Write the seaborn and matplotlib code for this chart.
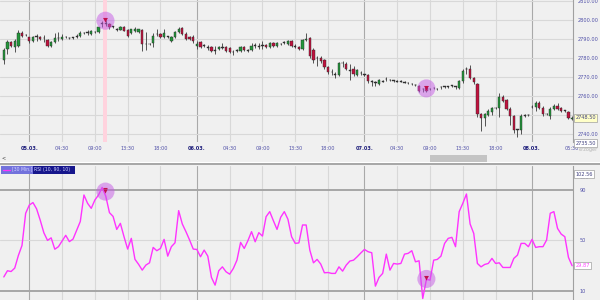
import matplotlib
matplotlib.use("Agg")
import matplotlib.pyplot as plt
import matplotlib.patches as mpatches
import matplotlib.transforms as mtransforms
import numpy as np
import pandas as pd
import seaborn as sns

# ---------------- data (30 min bars) ----------------
opens = [2778.9, 2784.7, 2788.2, 2785.6, 2786.5, 2793.0, 2792.1, 2790.9, 2789.1, 2791.2,
         2791.2, 2790.5, 2789.5, 2786.5, 2788.2, 2790.5, 2790.0, 2790.9, 2790.5, 2790.5,
         2791.2, 2791.5, 2793.0, 2793.3, 2792.6, 2793.5, 2793.5, 2798.2, 2797.9, 2797.9,
         2796.5, 2795.0, 2794.7, 2796.1, 2794.7, 2793.0, 2794.4, 2793.5, 2794.7, 2787.4,
         2787.2, 2787.7, 2792.6, 2792.6, 2790.9, 2791.2, 2788.8, 2790.9, 2793.6, 2795.8,
         2792.6, 2791.2, 2790.9, 2786.5, 2788.2, 2786.5, 2785.6, 2785.6, 2783.9, 2784.5,
         2785.6, 2785.6, 2785.0, 2783.0, 2783.9, 2783.7, 2785.6, 2783.9, 2784.2, 2786.5,
         2786.0, 2786.5, 2787.0, 2786.0, 2787.7, 2786.5, 2787.4, 2788.2, 2787.4, 2788.8,
         2786.0, 2786.0, 2784.7, 2789.5, 2790.5, 2784.2, 2780.0, 2780.0, 2778.9, 2775.1,
         2772.5, 2771.2, 2771.2, 2777.2, 2776.9, 2773.3, 2774.2, 2771.2, 2772.0, 2771.2,
         2771.2, 2767.7, 2767.2, 2766.3, 2767.7, 2768.8, 2768.4, 2768.1, 2767.7, 2767.7,
         2767.2, 2766.7, 2766.3, 2765.8, 2765.4, 2763.7, 2764.0, 2763.7, 2764.2, 2763.7,
         2764.6, 2764.9, 2764.9, 2765.4, 2764.9, 2764.2, 2767.7, 2774.2, 2774.2, 2769.5,
         2766.3, 2750.5, 2748.4, 2750.2, 2751.4, 2753.7, 2753.7, 2759.3, 2757.9, 2753.2,
         2749.6, 2742.2, 2742.2, 2749.6, 2750.0, 2754.2, 2754.2, 2756.1, 2753.7, 2750.5,
         2749.3, 2753.2, 2755.0, 2753.7, 2752.3, 2751.4, 2748.0]
highs = [2785.0, 2789.5, 2789.1, 2790.0, 2794.7, 2794.0, 2792.6, 2791.2, 2791.5, 2792.6,
         2791.8, 2792.3, 2790.0, 2789.0, 2793.0, 2793.5, 2792.6, 2791.4, 2791.0, 2791.0,
         2792.6, 2794.0, 2793.6, 2794.7, 2794.7, 2794.0, 2796.5, 2799.5, 2800.0, 2798.5,
         2797.0, 2795.8, 2797.0, 2796.6, 2795.3, 2795.5, 2796.1, 2795.5, 2795.3, 2793.5,
         2787.8, 2793.0, 2795.3, 2793.1, 2795.3, 2791.8, 2791.4, 2794.1, 2796.5, 2796.5,
         2793.5, 2791.7, 2792.3, 2789.0, 2789.0, 2787.4, 2787.0, 2786.1, 2786.5, 2786.1,
         2787.7, 2786.1, 2786.0, 2784.0, 2784.5, 2786.5, 2786.1, 2784.8, 2787.7, 2788.0,
         2787.7, 2789.1, 2787.5, 2788.2, 2788.2, 2788.2, 2787.9, 2789.1, 2789.6, 2789.3,
         2787.4, 2786.5, 2790.0, 2793.0, 2791.0, 2785.0, 2781.2, 2781.2, 2779.4, 2776.0,
         2774.2, 2772.5, 2777.8, 2778.6, 2778.0, 2776.8, 2776.0, 2774.2, 2773.4, 2771.7,
         2771.6, 2768.4, 2767.8, 2768.9, 2768.3, 2769.8, 2769.0, 2768.6, 2768.2, 2768.2,
         2767.7, 2767.2, 2766.8, 2766.3, 2766.0, 2764.2, 2764.5, 2764.2, 2764.7, 2764.2,
         2765.5, 2765.4, 2765.4, 2765.9, 2765.4, 2768.4, 2774.0, 2775.1, 2776.3, 2770.0,
         2767.0, 2751.0, 2751.0, 2753.0, 2754.0, 2754.2, 2761.8, 2760.5, 2758.5, 2754.0,
         2750.0, 2742.7, 2750.5, 2750.4, 2750.5, 2755.5, 2757.5, 2757.5, 2754.5, 2751.0,
         2754.0, 2756.0, 2756.3, 2754.0, 2752.8, 2752.0, 2749.3]
lows = [2776.8, 2782.1, 2785.6, 2783.0, 2786.0, 2791.2, 2791.5, 2787.7, 2788.5, 2789.1,
        2789.5, 2788.2, 2785.6, 2786.0, 2787.7, 2788.8, 2789.5, 2790.4, 2790.0, 2790.0,
        2790.5, 2791.2, 2792.5, 2792.3, 2792.3, 2793.0, 2793.3, 2796.5, 2796.8, 2795.3,
        2796.0, 2794.2, 2794.5, 2794.0, 2791.2, 2792.8, 2793.5, 2793.0, 2783.5, 2784.0,
        2786.6, 2785.6, 2791.8, 2790.4, 2790.5, 2790.6, 2788.3, 2790.4, 2793.0, 2792.3,
        2789.5, 2789.5, 2787.7, 2784.7, 2785.0, 2785.6, 2784.2, 2783.4, 2782.1, 2784.0,
        2784.7, 2783.4, 2782.5, 2781.8, 2783.4, 2783.2, 2783.7, 2783.0, 2783.7, 2785.5,
        2784.7, 2784.7, 2785.1, 2785.5, 2786.0, 2786.0, 2786.9, 2787.4, 2786.9, 2786.0,
        2785.3, 2784.2, 2784.2, 2788.8, 2780.0, 2777.5, 2776.0, 2777.5, 2774.0, 2771.4,
        2771.2, 2769.5, 2770.5, 2775.4, 2773.5, 2768.4, 2770.5, 2770.7, 2771.0, 2770.5,
        2767.0, 2765.4, 2765.5, 2765.8, 2767.2, 2768.0, 2767.9, 2767.5, 2767.2, 2767.2,
        2766.7, 2766.2, 2765.8, 2765.3, 2762.0, 2762.0, 2762.3, 2763.2, 2763.7, 2763.2,
        2763.5, 2764.4, 2764.4, 2764.9, 2763.5, 2763.7, 2767.0, 2771.4, 2768.8, 2766.3,
        2749.0, 2741.8, 2744.4, 2749.5, 2750.0, 2753.2, 2749.1, 2757.0, 2752.5, 2745.0,
        2740.5, 2738.6, 2740.0, 2748.9, 2749.4, 2753.5, 2752.0, 2753.2, 2749.5, 2750.0,
        2748.0, 2752.8, 2752.8, 2751.5, 2751.8, 2747.9, 2747.6]
closes = [2784.2, 2788.2, 2786.5, 2789.1, 2793.0, 2791.8, 2792.0, 2789.1, 2790.9, 2791.1,
          2790.0, 2790.4, 2786.5, 2788.2, 2790.5, 2790.4, 2791.2, 2790.8, 2790.4, 2790.6,
          2791.1, 2793.3, 2793.1, 2793.2, 2794.0, 2793.6, 2796.1, 2798.1, 2798.0, 2796.1,
          2796.4, 2794.9, 2796.5, 2794.4, 2791.8, 2795.0, 2795.3, 2795.0, 2787.4, 2787.3,
          2787.3, 2791.8, 2792.5, 2790.9, 2793.0, 2791.1, 2790.9, 2793.6, 2795.3, 2792.6,
          2790.0, 2790.0, 2788.8, 2787.5, 2786.0, 2786.4, 2785.5, 2783.9, 2783.8, 2785.6,
          2785.5, 2783.9, 2783.0, 2782.9, 2783.8, 2785.6, 2784.2, 2783.8, 2786.5, 2786.4,
          2785.9, 2786.4, 2785.6, 2787.7, 2786.5, 2787.7, 2787.3, 2788.1, 2789.1, 2786.5,
          2785.9, 2784.7, 2789.5, 2790.0, 2781.2, 2779.0, 2779.9, 2778.6, 2775.1, 2772.5,
          2772.4, 2771.1, 2777.2, 2777.1, 2774.3, 2773.2, 2771.6, 2773.7, 2771.9, 2771.1,
          2768.1, 2767.6, 2767.1, 2768.4, 2767.6, 2768.7, 2768.3, 2768.0, 2767.6, 2767.6,
          2767.1, 2766.6, 2766.2, 2765.7, 2762.8, 2763.6, 2762.8, 2763.6, 2764.1, 2763.6,
          2764.5, 2764.8, 2764.8, 2765.3, 2764.8, 2767.7, 2773.0, 2774.1, 2769.5, 2767.2,
          2750.5, 2748.4, 2750.5, 2752.0, 2753.7, 2753.6, 2759.6, 2757.5, 2753.2, 2749.6,
          2742.2, 2742.1, 2749.6, 2749.5, 2749.9, 2754.1, 2756.1, 2753.7, 2750.5, 2750.4,
          2753.2, 2754.9, 2753.2, 2752.0, 2752.2, 2748.4, 2748.5]
rsi = [21, 25.9, 25.3, 28, 38, 46, 71.5, 78, 80, 75,
       66, 56, 50, 52, 43, 45, 49.5, 54, 49, 51,
       58, 65, 86, 79.4, 75.4, 82, 86, 92, 85, 72,
       69, 58.7, 63.5, 52.9, 43.1, 51.6, 35, 31, 26.4, 30.4,
       32.2, 44.4, 41.8, 43.6, 50.8, 37.5, 45, 48.1, 73.6, 63,
       56.9, 50.3, 43.1, 42.8, 37, 42.3, 37.5, 20.6, 14.5, 25.9,
       29, 25.1, 23.2, 27.7, 34.3, 48.4, 43.6, 49.7, 56.9, 48.9,
       56.1, 53.4, 68.8, 72.8, 65.6, 58.7, 68.3, 72.8, 66.7, 52.9,
       47.6, 48, 62.2, 62.2, 42.3, 32.2, 34.9, 31.2, 24.3, 24.5,
       23.8, 23.8, 29, 25.6, 30.4, 33.6, 34.3, 37, 40, 42.8,
       41, 40.2, 13.7, 20.6, 23.8, 39.1, 26.4, 31.7, 31.2, 31.7,
       39.1, 39.7, 41.8, 33, 33.8, 3.9, 19, 18.5, 34.3, 34.9,
       37.5, 47.6, 51.6, 52.4, 45, 72.8, 79.4, 86.8, 63, 55.5,
       31.7, 29, 30.9, 31.7, 35.7, 31.7, 32.2, 28.5, 28.5, 28.5,
       35.7, 38.3, 47.6, 47.6, 45, 50.8, 44.4, 45, 45, 50.3,
       71.5, 72.8, 59.5, 55, 52.9, 36.5, 29.87]

tick_pos = [7, 16, 25, 34, 43, 53, 62, 71, 80, 89, 99, 108, 117, 126, 135, 145, 156]
tick_labels = ["05.03.", "04:30", "09:00", "13:30", "18:00",
               "06.03.", "04:30", "09:00", "13:30", "18:00",
               "07.03.", "04:30", "09:00", "13:30", "18:00",
               "08.03.", "05:30"]
day_ticks = ["05.03.", "06.03.", "07.03.", "08.03."]
price_ticks = [2740, 2750, 2760, 2770, 2780, 2790, 2800, 2810]
rsi_ticks = [10, 50, 90, 100]
signal_bar = [27.9, 116.0]
signal_price = [2799.6, 2764.0]
signal_rsi = [88.7, 19.4]
last_price = 2748.50
low_price = 2735.50
rsi_max = 102.56
rsi_last = 29.87

n = len(closes)
idx = np.arange(n)
df = pd.DataFrame({"bar": idx, "open": opens, "high": highs, "low": lows,
                   "close": closes, "rsi": rsi})

# ---------------- style ----------------
sns.set_theme(style="white")
plt.rcParams['font.family'] = ['DejaVu Sans']

BG = '#f0f0f0'
GRID = '#d8d8d8'
DAYGRID = '#a9a9a9'
LBL = '#5050a8'
DAYLBL = '#1c1c7a'
FS = 3.6

W, H = 600, 300
fig = plt.figure(figsize=(6, 3), dpi=100, facecolor=BG)

def fx(px):
    return px / W

def fy(py):
    return 1 - py / H

XR = 573
ax1 = fig.add_axes([0, fy(142), fx(XR), 142 / H])
ax2 = fig.add_axes([0, 0, fx(XR), 134 / H])

x0 = 7 - 29.3 / 3.643
x1 = 7 + (XR - 29.3) / 3.643

for ax in (ax1, ax2):
    ax.set_facecolor(BG)
    ax.set_xlim(x0, x1)
    for s in ("top", "left", "bottom"):
        ax.spines[s].set_visible(False)
    ax.spines["right"].set_color('#a0a0a0')
    ax.spines["right"].set_linewidth(0.8)
    for p, lab in zip(tick_pos[:-1], tick_labels[:-1]):
        ax.axvline(p, color=DAYGRID if lab in day_ticks else GRID, lw=0.8, zorder=0)

# ---------------- top panel: candles ----------------
ax1.set_ylim(2735.8, 2810.5)
for v in price_ticks:
    ax1.axhline(v, color=GRID, lw=0.8, zorder=0)
ax1.axvspan(27.35, 28.45, color='#ffd3de', lw=0, zorder=0.5)

ax1.vlines(df["bar"], df["low"], df["high"], color='#3a3a3a', lw=0.6, zorder=2)
body_lo = np.minimum(df["open"], df["close"])
body_h = np.maximum(np.abs(df["close"] - df["open"]), 0.3)
cols = []
for o, c in zip(opens, closes):
    if abs(c - o) < 0.25:
        cols.append('#333333')
    elif c > o:
        cols.append('#22963a')
    else:
        cols.append('#c0123e')
ax1.bar(df["bar"], body_h, bottom=body_lo, width=0.62, color=cols,
        edgecolor='#2a2a2a', linewidth=0.3, zorder=3)

ax1.scatter(signal_bar, signal_price, s=170, color='#c659e6', alpha=0.5,
            edgecolors='none', zorder=4)
ax1.scatter(signal_bar, [p + 0.3 for p in signal_price], s=9, marker='v',
            color='#c0104e', zorder=5, linewidths=0)
ax1.scatter(signal_bar, [p + 1.4 for p in signal_price], s=9, marker='_',
            color='#c0104e', zorder=5, linewidths=0.8)

ax1.yaxis.tick_right()
ax1.set_yticks(price_ticks)
# the 2750.00 label is hidden behind the last-price box in the reference
ax1.set_yticklabels(["" if abs(v - last_price) < 3 else f"{v:.2f}" for v in price_ticks])
ax1.tick_params(axis='y', length=0, pad=3.5, labelsize=FS, labelcolor=LBL)
ax1.set_xticks(tick_pos)
ax1.set_xticklabels(tick_labels)
ax1.tick_params(axis='x', length=0, pad=3.2, labelsize=FS, labelcolor=LBL)
for t in ax1.get_xticklabels():
    if t.get_text() in day_ticks:
        t.set_fontweight('bold')
        t.set_color(DAYLBL)
ax1.set_xlabel("")
ax1.set_ylabel("")

tr1 = mtransforms.blended_transform_factory(ax1.transAxes, ax1.transData)
ax1.text(1.004, last_price, f"{last_price:.2f}", transform=tr1, fontsize=FS,
         color='#404080', va='center', ha='left', clip_on=False, zorder=10,
         bbox=dict(boxstyle='square,pad=0.25', fc='#ffffc8', ec='#a0a0a0', lw=0.5))
ax1.text(1.004, low_price - 0.3, f"{low_price:.2f}", transform=tr1, fontsize=FS,
         color='#404080', va='center', ha='left', clip_on=False, zorder=10,
         bbox=dict(boxstyle='square,pad=0.25', fc='white', ec='#a0a0a0', lw=0.5))

# ---------------- bottom panel: RSI ----------------
ax2.set_ylim(2.7, 109)
ax2.axhline(50, color=GRID, lw=0.8, zorder=0)
ax2.axhline(90, color='#a6a6a6', lw=1.4, zorder=1)
ax2.axhline(10, color='#a6a6a6', lw=1.4, zorder=1)
sns.lineplot(data=df, x="bar", y="rsi", ax=ax2, color='#ff33ff', lw=1.0, zorder=3)
ax2.scatter(signal_bar, signal_rsi, s=170, color='#c659e6', alpha=0.5,
            edgecolors='none', zorder=4)
ax2.scatter(signal_bar, [r + 0.5 for r in signal_rsi], s=9, marker='v',
            color='#c0104e', zorder=5, linewidths=0)
ax2.scatter(signal_bar, [r + 2.5 for r in signal_rsi], s=9, marker='_',
            color='#c0104e', zorder=5, linewidths=0.8)
ax2.yaxis.tick_right()
ax2.set_yticks(rsi_ticks)
ax2.set_yticklabels([str(v) for v in rsi_ticks])
ax2.tick_params(axis='y', length=0, pad=5, labelsize=FS, labelcolor=LBL)
ax2.set_xticks([])
ax2.set_xlabel("")
ax2.set_ylabel("")

tr2 = mtransforms.blended_transform_factory(ax2.transAxes, ax2.transData)
ax2.text(1.004, rsi_max, f"{rsi_max:.2f}", transform=tr2, fontsize=FS,
         color='#404080', va='center', ha='left', clip_on=False, zorder=10,
         bbox=dict(boxstyle='square,pad=0.25', fc='white', ec='#a0a0a0', lw=0.5))
ax2.text(1.004, rsi_last, f"{rsi_last:.2f}", transform=tr2, fontsize=FS,
         color='#ff44ff', va='center', ha='left', clip_on=False, zorder=10,
         bbox=dict(boxstyle='square,pad=0.25', fc='white', ec='#a0a0a0', lw=0.5))

# ---------------- chrome between panels ----------------
fig.add_artist(mpatches.Rectangle((fx(430), fy(161.5)), fx(57), 7 / H,
                                  transform=fig.transFigure, fc='#c4c4c4', ec='none'))
fig.add_artist(mpatches.Rectangle((0, fy(163)), 1, 1.5 / H,
                                  transform=fig.transFigure, fc='white', ec='none'))
fig.add_artist(mpatches.Rectangle((0, fy(165)), 1, 2 / H,
                                  transform=fig.transFigure, fc='#a8a8a8', ec='none'))
fig.text(fx(1), fy(157.5), "<", fontsize=FS, color='#404040', va='center', ha='left')
fig.text(fx(579), fy(150), "erzöger", fontsize=FS, color='#b4b4b4', va='center', ha='left')

# legend tag of the RSI panel
fig.add_artist(mpatches.Rectangle((fx(1), fy(173.5)), fx(32), 7.5 / H,
                                  transform=fig.transFigure, fc='#7272dc', ec='none', zorder=20))
fig.add_artist(mpatches.Rectangle((fx(33), fy(173.5)), fx(42), 7.5 / H,
                                  transform=fig.transFigure, fc='#16168c', ec='none', zorder=20))
fig.add_artist(plt.Line2D([fx(3), fx(10)], [fy(169.8), fy(169.8)],
                          transform=fig.transFigure, color='#ff33ff', lw=0.9, zorder=21))
fig.text(fx(12), fy(169.8), "[30 Min.] RSI (10, 90, 10)", fontsize=3.3,
         color='#d4d4ff', va='center', ha='left', zorder=22)

fig.savefig("out.png", dpi=100, facecolor=BG)
